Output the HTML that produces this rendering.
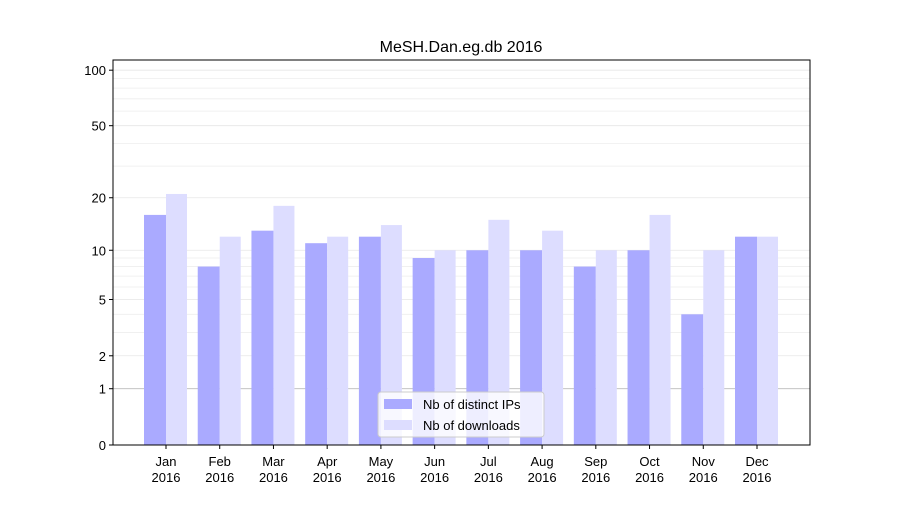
<!DOCTYPE html>
<html><head><meta charset="utf-8"><style>
body{margin:0;background:#fff}
svg{font-family:"Liberation Sans","DejaVu Sans",sans-serif}
</style></head><body>
<svg id="chart" width="900" height="500"></svg>
<script>
const months=["Jan","Feb","Mar","Apr","May","Jun","Jul","Aug","Sep","Oct","Nov","Dec"];
const ips=[16,8,13,11,12,9,10,10,8,10,4,12];
const downloads=[21,12,18,12,14,10,15,13,10,16,10,12];
const yTicks=[0,1,2,5,10,20,50,100];
const minorTicks=[3,4,6,7,8,9,30,40,60,70,80,90];
const NS="http://www.w3.org/2000/svg";
const svg=document.getElementById('chart');
const L=113,R=810,T=60,B=445;
const y=v=>B-187*Math.log10(1+v);
const x=i=>166+i*(757-166)/11;
function el(t,a,txt){const e=document.createElementNS(NS,t);for(const k in a)e.setAttribute(k,a[k]);if(txt!==undefined)e.textContent=txt;svg.appendChild(e);return e;}
minorTicks.forEach(v=>{const g=el('line',{x1:L,x2:R,y1:y(v),y2:y(v),stroke:'#eeeeee','stroke-width':0.8});

});
yTicks.forEach(v=>{const g=el('line',{x1:L,x2:R,y1:y(v),y2:y(v),stroke:v===1?'#bbbbbb':'#e6e6e6','stroke-width':0.8});

});
months.forEach((m,i)=>{
const b1=el('rect',{x:x(i)-22,y:y(ips[i]),width:22,height:B-y(ips[i]),fill:'#aaaaff'});


const b2=el('rect',{x:x(i),y:y(downloads[i]),width:21,height:B-y(downloads[i]),fill:'#ddddff'});


const tk=el('line',{x1:x(i),x2:x(i),y1:B,y2:B+4,stroke:'#000'});


const t1=el('text',{x:x(i),y:466,'font-size':13,'text-anchor':'middle'},m);


const t2=el('text',{x:x(i),y:482,'font-size':13,'text-anchor':'middle'},'2016');


});
yTicks.forEach(v=>{
const tk=el('line',{x1:L-4,x2:L,y1:y(v),y2:y(v),stroke:'#000'});


const t=el('text',{x:L-7,y:y(v)+5,'font-size':13,'text-anchor':'end'},v);


});
const fr=el('rect',{x:L,y:T,width:R-L,height:B-T,fill:'none',stroke:'#000','stroke-width':1});


const ti=el('text',{x:461,y:52,'font-size':16,'text-anchor':'middle'},'MeSH.Dan.eg.db 2016');


const lg=el('rect',{x:378,y:392,width:166,height:45,fill:'#fff','fill-opacity':0.8,stroke:'#cccccc',rx:3});


const s1=el('rect',{x:384,y:399,width:28,height:10,fill:'#aaaaff'});


const l1=el('text',{x:423,y:409,'font-size':13},'Nb of distinct IPs');


const s2=el('rect',{x:384,y:420,width:28,height:10,fill:'#ddddff'});


const l2=el('text',{x:423,y:430,'font-size':13},'Nb of downloads');


</script>
</body></html>
